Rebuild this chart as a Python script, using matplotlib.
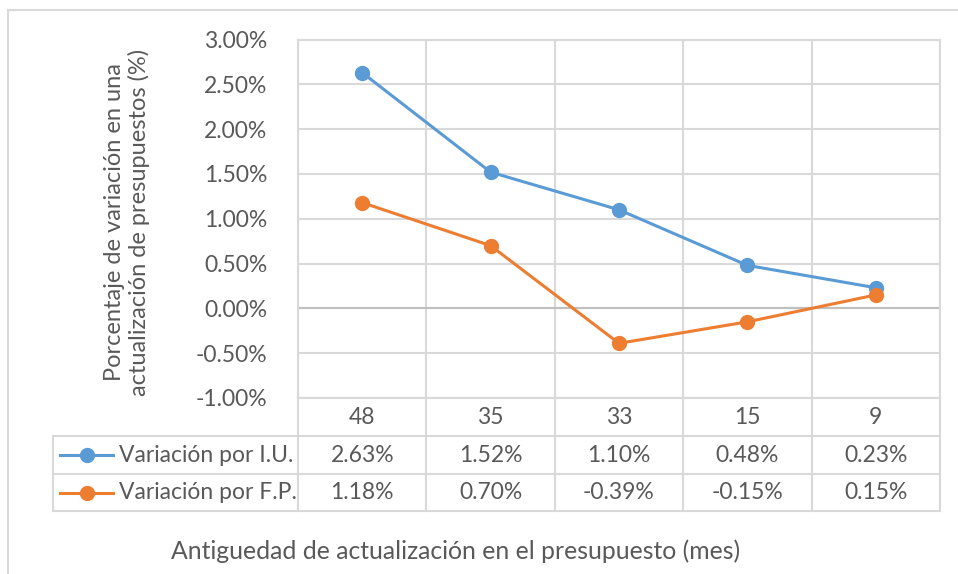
import matplotlib
matplotlib.use("Agg")
import matplotlib.pyplot as plt
from matplotlib.lines import Line2D
from matplotlib.patches import Rectangle

plt.rcParams['font.family'] = ['Lato', 'DejaVu Sans']

categories = ["48", "35", "33", "15", "9"]
series_names = ["Variación por I.U.", "Variación por F.P."]
iu_values = [2.63, 1.52, 1.10, 0.48, 0.23]
fp_values = [1.18, 0.70, -0.39, -0.15, 0.15]
y_ticks = [-1.0, -0.5, 0.0, 0.5, 1.0, 1.5, 2.0, 2.5, 3.0]
x_title = "Antiguedad de actualización en el presupuesto (mes)"
y_title = "Porcentaje de variación en una\nactualización de presupuestos (%)"

colors = ["#5B9BD5", "#ED7D31"]
text_c = "#595959"
grid_c = "#D9D9D9"
fs = 16.5

W, H = 958, 574
fig = plt.figure(figsize=(W / 100, H / 100), dpi=100)

# outer chart border
fig.patches.append(Rectangle((8 / W, -0.05), 1.2, 1 - 10 / H + 0.05, transform=fig.transFigure,
                             fill=False, edgecolor=grid_c, linewidth=1.5))

px_l, px_r, px_t, px_b = 298, 940, 39.5, 398
ax = fig.add_axes([px_l / W, 1 - px_b / H, (px_r - px_l) / W, (px_b - px_t) / H])

xs = list(range(len(categories)))
ax.set_xlim(-0.5, len(categories) - 0.5)
ax.set_ylim(-1.0, 3.0)
ax.set_yticks(y_ticks)
ax.set_yticklabels([f"{v:.2f}%" for v in y_ticks], color=text_c, fontsize=fs)
ax.set_xticks([i - 0.5 for i in range(len(categories) + 1)])
ax.set_xticklabels([])
ax.tick_params(length=0, pad=22)
ax.grid(True, color=grid_c, linewidth=1.5)
ax.axhline(0, color="#BFBFBF", linewidth=1.5, zorder=1)
for s in ax.spines.values():
    s.set_color(grid_c)
    s.set_linewidth(1.5)
ax.set_axisbelow(True)

for vals, c in zip([iu_values, fp_values], colors):
    ax.plot(xs, vals, color=c, linewidth=2.2, marker="o", markersize=10, zorder=3)

# data table
ah = px_b - px_t
aw = px_r - px_l
def ay(py):
    return (px_b - py) / ah
def axx(px):
    return (px - px_l) / aw

rows = [398, 436, 474, 511]
lk = dict(transform=ax.transAxes, color=grid_c, linewidth=1.5, clip_on=False)
for i in range(len(categories) + 1):
    ax.add_line(Line2D([i / len(categories)] * 2, [ay(rows[0]), ay(rows[3])], **lk))
ax.add_line(Line2D([axx(53)] * 2, [ay(rows[1]), ay(rows[3])], **lk))
for r in rows[1:]:
    ax.add_line(Line2D([axx(53), 1], [ay(r)] * 2, **lk))

for i, cat in enumerate(categories):
    ax.text((i + 0.5) / len(categories), ay((rows[0] + rows[1]) / 2), cat,
            transform=ax.transAxes, ha="center", va="center", color=text_c, fontsize=fs)
for k, (vals, c, name) in enumerate(zip([iu_values, fp_values], colors, series_names)):
    yc = ay((rows[k + 1] + rows[k + 2]) / 2)
    for i, v in enumerate(vals):
        ax.text((i + 0.5) / len(categories), yc, f"{v:.2f}%", transform=ax.transAxes,
                ha="center", va="center", color=text_c, fontsize=fs)
    ax.add_line(Line2D([axx(60), axx(113)], [yc, yc], transform=ax.transAxes, color=c,
                       linewidth=2.2, clip_on=False))
    ax.add_line(Line2D([axx(87)], [yc], transform=ax.transAxes, color=c, marker="o",
                       markersize=10, clip_on=False, linestyle="none"))
    ax.text(axx(119), yc, name, transform=ax.transAxes, ha="left", va="center",
            color=text_c, fontsize=fs)

fig.text(456 / W, 1 - 551 / H, x_title, ha="center", va="center", color=text_c, fontsize=17.8)
fig.text(127 / W, 1 - 222 / H, y_title, ha="center", va="center", rotation=90,
         color=text_c, fontsize=17, linespacing=1.2, multialignment="center")

fig.savefig("out.png", dpi=100)
